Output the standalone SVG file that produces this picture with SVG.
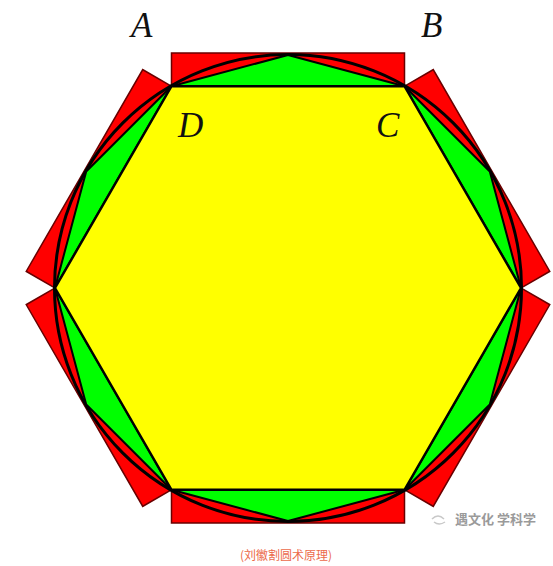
<svg xmlns="http://www.w3.org/2000/svg" width="553" height="566" viewBox="0 0 553 566">
<style>
.rect{fill:#ff0000;stroke:#6a0000;stroke-width:1.5;stroke-linejoin:miter}
.tri{fill:#00ff00;stroke:#000;stroke-width:2;stroke-linejoin:round}
.hex{fill:#ffff00;stroke:#000;stroke-width:2.5;stroke-linejoin:miter}
.circ{fill:none;stroke:#000;stroke-width:3}
.lbl{font-family:"Liberation Serif","DejaVu Serif",serif;font-style:italic;font-size:35px;fill:#111}
.cap{font-family:"Noto Sans CJK SC","Noto Sans",sans-serif;font-size:12px;fill:#ec6a4a}
.wm{font-family:"Noto Sans CJK SC","Noto Sans",sans-serif;font-size:13px;fill:#9a9a9a;font-weight:bold}
</style>
<defs>
<rect id="r" x="171.5" y="53" width="233" height="33.2"/>
<polygon id="t" points="171.5,86.2 404.5,86.2 288,55"/>
</defs>
<rect width="553" height="566" fill="#ffffff"/>
<g id="rectangles">
<use href="#r" class="rect"/>
<use href="#r" class="rect" transform="rotate(60 288 288)"/>
<use href="#r" class="rect" transform="rotate(120 288 288)"/>
<use href="#r" class="rect" transform="rotate(180 288 288)"/>
<use href="#r" class="rect" transform="rotate(240 288 288)"/>
<use href="#r" class="rect" transform="rotate(300 288 288)"/>
</g>
<g id="circle"><circle class="circ" cx="288" cy="288" r="233.5"/></g>
<g id="triangles">
<use href="#t" class="tri"/>
<use href="#t" class="tri" transform="rotate(60 288 288)"/>
<use href="#t" class="tri" transform="rotate(120 288 288)"/>
<use href="#t" class="tri" transform="rotate(180 288 288)"/>
<use href="#t" class="tri" transform="rotate(240 288 288)"/>
<use href="#t" class="tri" transform="rotate(300 288 288)"/>
</g>
<g id="hexagon"><polygon class="hex" points="521,288 404.5,489.8 171.5,489.8 55,288 171.5,86.2 404.5,86.2"/></g>
<g id="labels">
<text class="lbl" x="131" y="37">A</text>
<text class="lbl" x="421" y="37">B</text>
<text class="lbl" x="178" y="137">D</text>
<text class="lbl" x="376" y="137">C</text>
</g>
<g id="watermark">
<path d="M432,519 q6,-6 12,0 M434,522 q5,4 11,0" fill="none" stroke="#c8c8c8" stroke-width="1.5"/>
<text class="wm" x="455" y="524">遇文化 学科学</text>
</g>
<text class="cap" x="286" y="560" text-anchor="middle">(刘徽割圆术原理)</text>
</svg>
